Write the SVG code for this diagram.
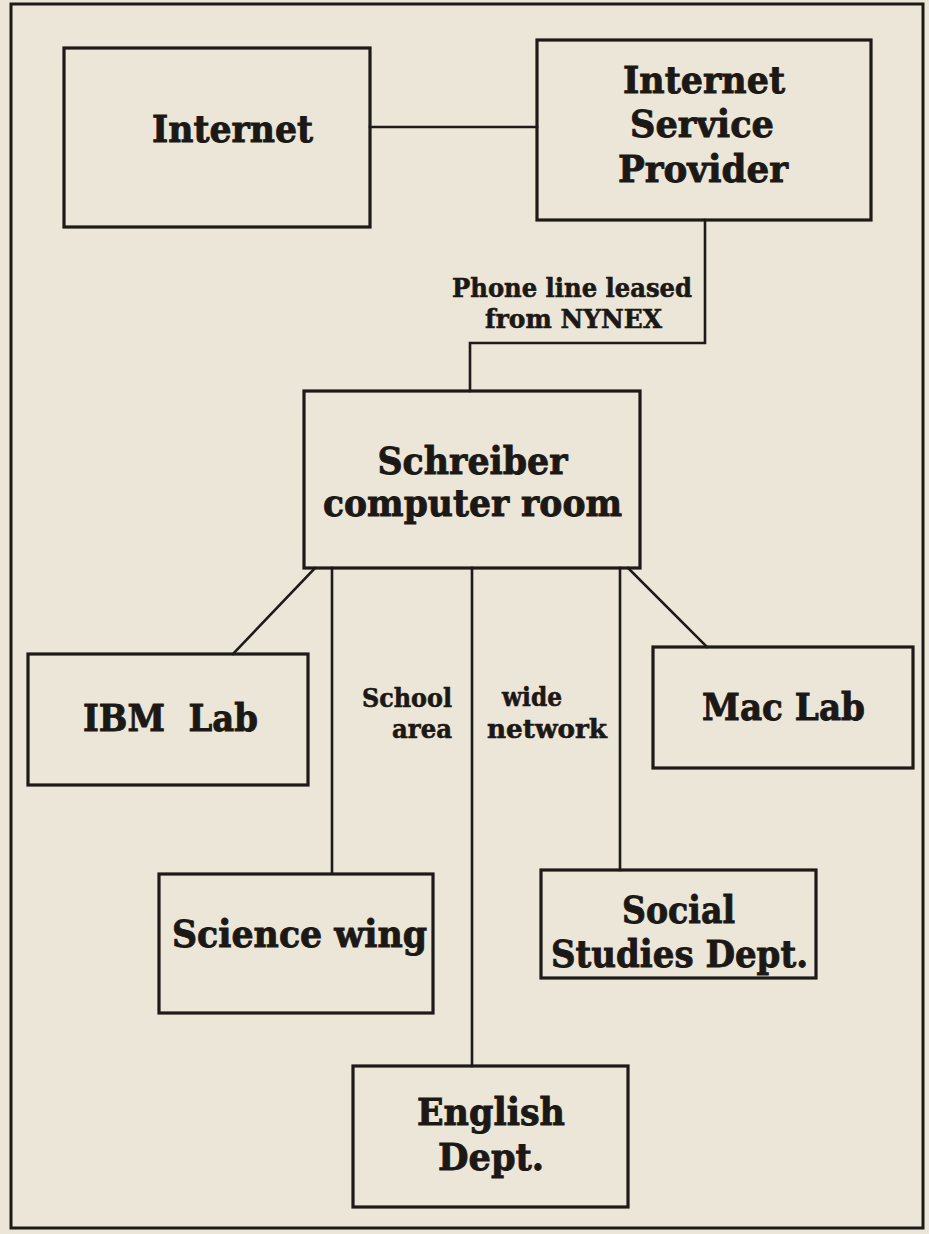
<svg xmlns="http://www.w3.org/2000/svg" width="929" height="1234" viewBox="0 0 929 1234">
  <style>
    .paper { fill: #ebe6d7; }
    .frame { fill: none; stroke: #1d1a17; stroke-width: 3; }
    .box { fill: none; stroke: #1d1a17; stroke-width: 3.2; }
    .wire { fill: none; stroke: #1d1a17; stroke-width: 2.6; stroke-linecap: square; }
    .big { font-family: "DejaVu Serif", "Liberation Serif", serif; font-weight: bold; font-size: 38px; fill: #1b1815; stroke: #1b1815; stroke-width: 0.9; text-anchor: middle; }
    .small { font-family: "DejaVu Serif", "Liberation Serif", serif; font-weight: bold; font-size: 26px; fill: #1b1815; stroke: #1b1815; stroke-width: 0.6; text-anchor: middle; }
  </style>

  <rect class="paper" x="0" y="0" width="929" height="1234"/>
  <rect class="frame" x="11" y="4" width="912" height="1224"/>

  <!-- network links -->
  <g id="connectors">
    <path class="wire" d="M370 127 H537"/>
    <path class="wire" d="M705 220 V343 H470 V391"/>
    <path class="wire" d="M315 568 L233 654"/>
    <path class="wire" d="M332 568 V872"/>
    <path class="wire" d="M472 568 V1066"/>
    <path class="wire" d="M620 568 V870"/>
    <path class="wire" d="M628 568 L707 647"/>
  </g>

  <g id="link-labels">
    <text class="small" x="572" y="297" textLength="240" lengthAdjust="spacingAndGlyphs">Phone line leased</text>
    <text class="small" x="573.5" y="328" textLength="177" lengthAdjust="spacingAndGlyphs">from NYNEX</text>
    <text class="small" x="407" y="707" textLength="90" lengthAdjust="spacingAndGlyphs">School</text>
    <text class="small" x="422" y="738" textLength="60" lengthAdjust="spacingAndGlyphs">area</text>
    <text class="small" x="532" y="706" textLength="60" lengthAdjust="spacingAndGlyphs">wide</text>
    <text class="small" x="547" y="738" textLength="120" lengthAdjust="spacingAndGlyphs">network</text>
  </g>

  <g id="internet">
    <rect class="box" x="64" y="48" width="306" height="179"/>
    <text class="big" x="232.5" y="142" textLength="161" lengthAdjust="spacingAndGlyphs">Internet</text>
  </g>

  <g id="isp">
    <rect class="box" x="537" y="40" width="334" height="180"/>
    <text class="big" x="704" y="93" textLength="162" lengthAdjust="spacingAndGlyphs">Internet</text>
    <text class="big" x="702" y="137" textLength="144" lengthAdjust="spacingAndGlyphs">Service</text>
    <text class="big" x="703" y="182" textLength="170" lengthAdjust="spacingAndGlyphs">Provider</text>
  </g>

  <g id="schreiber">
    <rect class="box" x="304" y="391" width="336" height="177"/>
    <text class="big" x="472.5" y="474" textLength="190" lengthAdjust="spacingAndGlyphs">Schreiber</text>
    <text class="big" x="472.5" y="516" textLength="299" lengthAdjust="spacingAndGlyphs">computer room</text>
  </g>

  <g id="ibm-lab">
    <rect class="box" x="28" y="654" width="280" height="131"/>
    <text class="big" x="170.5" y="731" textLength="175" lengthAdjust="spacingAndGlyphs" xml:space="preserve">IBM  Lab</text>
  </g>

  <g id="mac-lab">
    <rect class="box" x="653" y="647" width="260" height="121"/>
    <text class="big" x="783.5" y="720" textLength="163" lengthAdjust="spacingAndGlyphs">Mac Lab</text>
  </g>

  <g id="science-wing">
    <rect class="box" x="159" y="874" width="274" height="139"/>
    <text class="big" x="299.5" y="947" textLength="255" lengthAdjust="spacingAndGlyphs">Science wing</text>
  </g>

  <g id="social-studies">
    <rect class="box" x="541" y="870" width="275" height="108"/>
    <text class="big" x="678.5" y="923" textLength="113" lengthAdjust="spacingAndGlyphs">Social</text>
    <text class="big" x="679.5" y="967" textLength="257" lengthAdjust="spacingAndGlyphs">Studies Dept.</text>
  </g>

  <g id="english">
    <rect class="box" x="353" y="1066" width="275" height="141"/>
    <text class="big" x="491" y="1125" textLength="148" lengthAdjust="spacingAndGlyphs">English</text>
    <text class="big" x="491" y="1170" textLength="106" lengthAdjust="spacingAndGlyphs">Dept.</text>
  </g>
</svg>
